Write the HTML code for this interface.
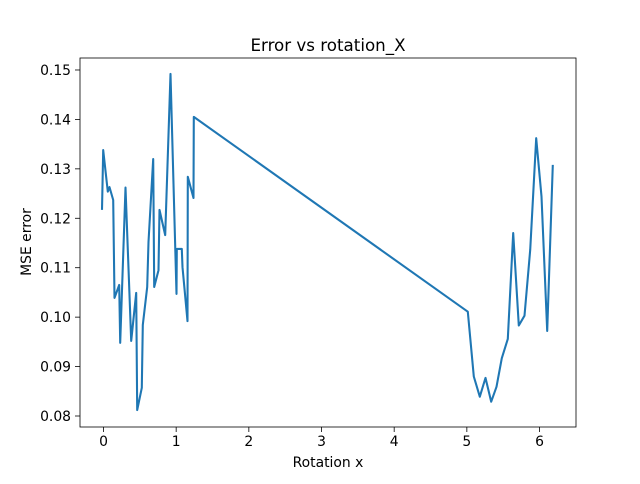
<!DOCTYPE html>
<html><head><meta charset="utf-8"><style>
body{margin:0;background:#fff;font-family:"DejaVu Sans","Liberation Sans",sans-serif}
svg text{font-family:"DejaVu Sans","Liberation Sans",sans-serif;fill:#000}
</style></head><body>
<svg id="chart" width="640" height="480">
<rect width="640" height="480" fill="#fff"/>
<text x="328" y="51" font-size="16.7" text-anchor="middle">Error vs rotation_X</text>
<g id="xticks"></g>
<g id="yticks"></g>
<path id="line" fill="none" stroke="#1f77b4" stroke-width="2.08" stroke-linejoin="round" stroke-linecap="butt"/>
<rect x="80" y="58" width="496" height="369" fill="none" stroke="#000" stroke-width="0.8"/>
<text x="328" y="467" font-size="13.9" text-anchor="middle">Rotation x</text>
<text x="0" y="0" font-size="13.9" text-anchor="middle" transform="translate(31,242) rotate(-90)">MSE error</text>
</svg>
<script>
const xValues=[-0.02,-0.004,0.059,0.083,0.133,0.151,0.216,0.230,0.303,0.381,0.450,0.464,0.527,0.541,0.601,0.619,0.684,0.698,0.757,0.771,0.849,0.922,1.005,1.009,1.077,1.087,1.156,1.160,1.238,1.243,5.013,5.096,5.178,5.257,5.335,5.408,5.481,5.564,5.638,5.715,5.793,5.872,5.954,6.027,6.106,6.183];
const yValues=[0.1217,0.1338,0.1254,0.1263,0.1237,0.1039,0.1065,0.0948,0.1262,0.0952,0.1049,0.0812,0.0857,0.0984,0.1061,0.1152,0.1320,0.1061,0.1095,0.1217,0.1166,0.1492,0.1047,0.1138,0.1138,0.1101,0.0992,0.1284,0.1241,0.1405,0.1011,0.0880,0.0839,0.0877,0.0829,0.0859,0.0917,0.0956,0.1170,0.0983,0.1003,0.1136,0.1362,0.1244,0.0972,0.1308];
const xTicks=[0,1,2,3,4,5,6];
const yTicks=[0.08,0.09,0.10,0.11,0.12,0.13,0.14,0.15];
const ns="http://www.w3.org/2000/svg";
const sx=v=>103.5+v*72.67;
const sy=v=>416-(v-0.08)*4943;
let d="";
xValues.forEach((x,i)=>{d+=(i?"L":"M")+sx(x).toFixed(1)+","+sy(yValues[i]).toFixed(1);});
document.getElementById("line").setAttribute("d",d);
const gx=document.getElementById("xticks");
xTicks.forEach(t=>{
 const l=document.createElementNS(ns,"line");
 l.setAttribute("x1",sx(t));l.setAttribute("x2",sx(t));l.setAttribute("y1",427);l.setAttribute("y2",432);l.setAttribute("stroke","#000");l.setAttribute("stroke-width","0.8");
 
 
 gx.appendChild(l);
 const tx=document.createElementNS(ns,"text");
 tx.setAttribute("x",sx(t));tx.setAttribute("y",446);tx.setAttribute("font-size","13.9");tx.setAttribute("text-anchor","middle");tx.textContent=t;
 
 
 gx.appendChild(tx);
});
const gy=document.getElementById("yticks");
yTicks.forEach(t=>{
 const l=document.createElementNS(ns,"line");
 l.setAttribute("x1",75);l.setAttribute("x2",80);l.setAttribute("y1",sy(t));l.setAttribute("y2",sy(t));l.setAttribute("stroke","#000");l.setAttribute("stroke-width","0.8");
 
 
 gy.appendChild(l);
 const tx=document.createElementNS(ns,"text");
 tx.setAttribute("x",71);tx.setAttribute("y",sy(t)+5);tx.setAttribute("font-size","13.9");tx.setAttribute("text-anchor","end");tx.textContent=t.toFixed(2);
 
 
 gy.appendChild(tx);
});
</script>
</body></html>
